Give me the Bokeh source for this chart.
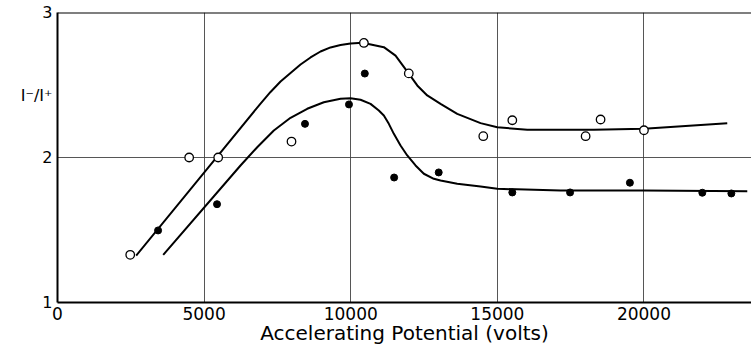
from bokeh.plotting import figure
from bokeh.models import Range1d, FixedTicker, Span
from bokeh.embed import file_html
from bokeh.resources import INLINE

# ---- data ----
open_x = [2480, 4490, 5480, 7980, 10450, 11980, 14520, 15510, 18010, 18520, 20000]
open_y = [1.329, 2.0, 2.0, 2.11, 2.79, 2.58, 2.147, 2.257, 2.147, 2.262, 2.188]

filled_x = [3430, 5440, 8440, 9940, 10480, 11480, 13000, 15510, 17480, 19520, 21990, 22980]
filled_y = [1.497, 1.678, 2.232, 2.366, 2.579, 1.862, 1.897, 1.759, 1.759, 1.826, 1.757, 1.752]

# hand-drawn fit curves, read along their length
upper_x = [2684, 5467, 6924, 7265, 7606, 7947, 8288, 8629, 8970, 9311, 9652, 9993, 10402,
           11129, 11528, 11961, 12268, 12609, 13063, 13632, 14427, 14997, 16020, 18290,
           20000, 22840]
upper_y = [1.324, 2.012, 2.372, 2.452, 2.524, 2.583, 2.641, 2.690, 2.731, 2.759, 2.776, 2.786,
           2.791, 2.761, 2.703, 2.584, 2.497, 2.428, 2.370, 2.301, 2.237, 2.209, 2.191, 2.191,
           2.198, 2.237]

lower_x = [3605, 6241, 6811, 7377, 7947, 8516, 9082, 9652, 9993, 10334, 10675, 10958, 11129,
           11299, 11470, 11698, 11927, 12210, 12493, 12834, 13063, 13632, 14427, 14997,
           17156, 19997, 23523]
lower_y = [1.329, 1.945, 2.071, 2.186, 2.274, 2.336, 2.381, 2.405, 2.409, 2.398, 2.370, 2.324,
           2.290, 2.232, 2.163, 2.083, 2.014, 1.945, 1.888, 1.853, 1.841, 1.819, 1.800, 1.784,
           1.772, 1.772, 1.768]

x_ticks = [0, 5000, 10000, 15000, 20000]
y_ticks = [1, 2, 3]
x_title = "Accelerating Potential (volts)"
y_title = "I\u207b/I\u207a"
y_title_pos = 2.43

FONT = "DejaVu Sans"

p = figure(width=751, height=347, x_range=Range1d(0, 23667), y_range=Range1d(1, 3),
           output_backend="svg", toolbar_location=None,
           min_border_left=57, min_border_right=0, min_border_top=12, min_border_bottom=45)
p.outline_line_color = None
p.background_fill_color = "white"

for ax in (p.xaxis[0], p.yaxis[0]):
    ax.axis_line_width = 2
    ax.axis_line_color = "black"
    ax.major_tick_out = 0
    ax.major_tick_in = 0
    ax.minor_tick_out = 0
    ax.minor_tick_in = 0
    ax.major_label_text_font = FONT
    ax.major_label_text_color = "black"

p.xaxis[0].major_label_text_font_size = "17px"
p.yaxis[0].major_label_text_font_size = "16px"

p.xaxis[0].ticker = FixedTicker(ticks=x_ticks)
p.yaxis[0].ticker = FixedTicker(ticks=y_ticks + [y_title_pos])
p.yaxis[0].major_label_overrides = {y_title_pos: y_title}
p.xaxis[0].major_label_standoff = 4
p.yaxis[0].major_label_standoff = 5

p.xaxis[0].axis_label = x_title
p.xaxis[0].axis_label_text_font = FONT
p.xaxis[0].axis_label_text_font_size = "20px"
p.xaxis[0].axis_label_text_font_style = "normal"
p.xaxis[0].axis_label_text_color = "black"
p.xaxis[0].axis_label_standoff = -2

p.xgrid[0].ticker = FixedTicker(ticks=x_ticks[1:])
p.ygrid[0].ticker = FixedTicker(ticks=[2])
for g in (p.xgrid[0], p.ygrid[0]):
    g.grid_line_color = "#444444"
    g.grid_line_width = 1
    g.grid_line_alpha = 0.9

p.add_layout(Span(location=3, dimension="width", line_color="black", line_width=2))

p.line(upper_x, upper_y, line_color="black", line_width=2)
p.line(lower_x, lower_y, line_color="black", line_width=2)

p.scatter(filled_x, filled_y, marker="circle", size=7, fill_color="black", line_color="black")
p.scatter(open_x, open_y, marker="circle", size=8.5, fill_color="white",
          line_color="black", line_width=1.3)

open("out.html", "w").write(file_html(p, INLINE))
